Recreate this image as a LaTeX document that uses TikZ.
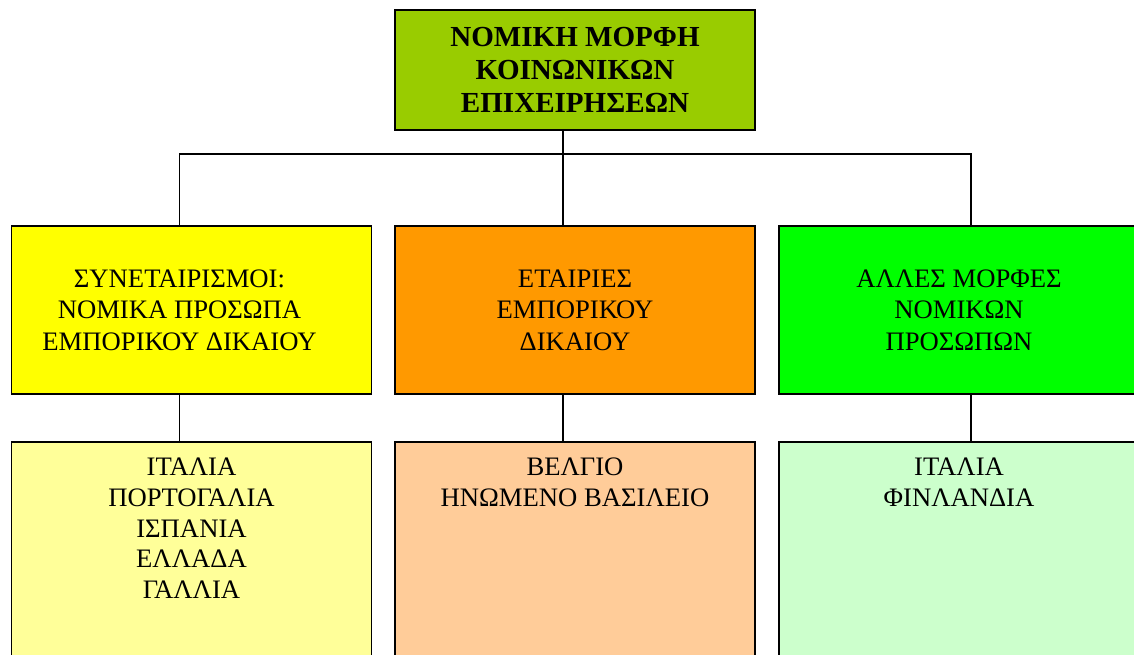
\documentclass[tikz,border=0pt]{standalone}
\usepackage{fontspec}
\setmainfont{Liberation Serif}
\usetikzlibrary{positioning}

\definecolor{headgreen}{HTML}{99CC00}
\definecolor{synyellow}{HTML}{FFFF00}
\definecolor{etairorange}{HTML}{FF9900}
\definecolor{allesgreen}{HTML}{00FF00}
\definecolor{lowyellow}{HTML}{FFFF99}
\definecolor{loworange}{HTML}{FFCC99}
\definecolor{lowgreen}{HTML}{CCFFCC}

\begin{document}
\begin{tikzpicture}[x=0.75pt, y=-0.75pt,
		box/.style={draw=black, line width=1.2pt, inner sep=0pt, outer sep=0pt, minimum width=270pt, align=center, font={\fontsize{20}{23.5}\selectfont}},
		headbox/.style={box, minimum height=90pt, font={\bfseries\fontsize{21.8}{25}\selectfont}},
		midbox/.style={box, minimum height=126pt},
		lowbox/.style={box, minimum height=193.5pt},
		boxtext/.style={align=center, inner sep=0pt, font={\fontsize{20}{23.5}\selectfont}},
		lowtext/.style={boxtext, anchor=north, font={\fontsize{20}{23}\selectfont}},
		wire/.style={line width=1.2pt}]
			%\draw[help lines] (0,0) grid[step=50] (1134,655);

			\useasboundingbox (0,0) rectangle (1134,655);
			\clip (0,0) rectangle (1134,655);

			\node[headbox, fill=headgreen] (nomiki) at (575,70) {ΝΟΜΙΚΗ ΜΟΡΦΗ\\ΚΟΙΝΩΝΙΚΩΝ\\ΕΠΙΧΕΙΡΗΣΕΩΝ};

			\node[midbox, fill=synyellow] (syn) at (191.5,310) {};
			\node[boxtext] (syntitle) at ([xshift=-9pt]syn.center) {ΣΥΝΕΤΑΙΡΙΣΜΟΙ:\\ΝΟΜΙΚΑ ΠΡΟΣΩΠΑ\\ΕΜΠΟΡΙΚΟΥ ΔΙΚΑΙΟΥ};
			\node[midbox, fill=etairorange] (etair) at (575,310) {ΕΤΑΙΡΙΕΣ\\ΕΜΠΟΡΙΚΟΥ\\ΔΙΚΑΙΟΥ};
			\node[midbox, fill=allesgreen] (alles) at (959,310) {ΑΛΛΕΣ ΜΟΡΦΕΣ\\ΝΟΜΙΚΩΝ\\ΠΡΟΣΩΠΩΝ};

			\node[lowbox, fill=lowyellow] (synlow) at (191.5,571) {};
			\node[lowbox, fill=loworange] (etairlow) at (575,571) {};
			\node[lowbox, fill=lowgreen] (alleslow) at (959,571) {};

			\node[lowtext] (syntext) at ([yshift=-12pt]synlow.north) {ΙΤΑΛΙΑ\\ΠΟΡΤΟΓΑΛΙΑ\\ΙΣΠΑΝΙΑ\\ΕΛΛΑΔΑ\\ΓΑΛΛΙΑ};
			\node[lowtext] (etairtext) at ([yshift=-12pt]etairlow.north) {ΒΕΛΓΙΟ\\ΗΝΩΜΕΝΟ ΒΑΣΙΛΕΙΟ};
			\node[lowtext] (allestext) at ([yshift=-12pt]alleslow.north) {ΙΤΑΛΙΑ\\ΦΙΝΛΑΝΔΙΑ};

			% tree lines
			\draw[wire] ([xshift=-9pt]nomiki.south) -- ([xshift=-9pt]etair.north);
			\draw[wire] ([xshift=-9pt]syn.north) -- ++(0,-72) -| ([xshift=9pt]alles.north);

			\draw[wire] ([xshift=-9pt]syn.south) -- ([xshift=-9pt]synlow.north);
			\draw[wire] ([xshift=-9pt]etair.south) -- ([xshift=-9pt]etairlow.north);
			\draw[wire] ([xshift=9pt]alles.south) -- ([xshift=9pt]alleslow.north);
		\end{tikzpicture}
\end{document}
